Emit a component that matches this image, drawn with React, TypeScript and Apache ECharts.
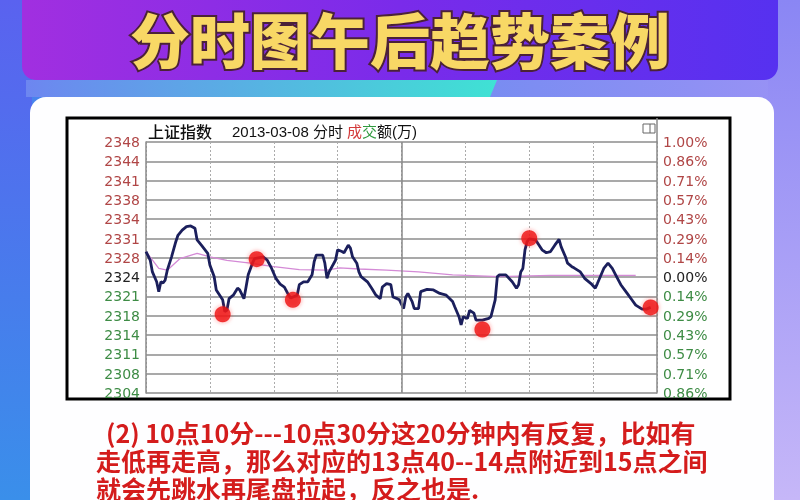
import React, { useEffect, useRef } from "react";
import * as echarts from "echarts";

// previous close of the index; one grid step = 1/7 of 1%
const BASE = 2324.4;
const STEP = BASE / 700;

const leftLabels = ["2304", "2308", "2311", "2314", "2318", "2321", "2324", "2328", "2331", "2334", "2338", "2341", "2344", "2348"];
const rightLabels = ["0.86%", "0.71%", "0.57%", "0.43%", "0.29%", "0.14%", "0.00%", "0.14%", "0.29%", "0.43%", "0.57%", "0.71%", "0.86%", "1.00%"];

// [minute since 9:30 (trading minutes), index value]
const priceLine = [
  [0, 2328.8], [2, 2327.3], [3, 2325.3], [5, 2323.6], [6, 2321.9], [7, 2323.6], [8, 2323.4], [9, 2323.9],
  [10, 2325.6], [12, 2327.9], [14, 2330.5], [15, 2331.6], [17, 2332.5], [19, 2333.1], [21, 2333.2], [23, 2332.8],
  [24, 2330.8], [26, 2329.9], [29, 2328.5], [30, 2326.5], [32, 2324.5], [33, 2322.2], [36, 2320.5], [37, 2318.5],
  [38, 2318.7], [39, 2320.7], [41, 2321.3], [43, 2322.5], [44, 2322.2], [46, 2320.7], [47, 2322.7], [48, 2324.8],
  [50, 2326.8], [51, 2327.6], [55, 2327.9], [57, 2327.3], [59, 2325.9], [61, 2324.2], [63, 2323.2], [65, 2322.7],
  [67, 2321.3], [68, 2320.8], [71, 2321.3], [72, 2323.1], [74, 2323.6], [76, 2323.6], [78, 2324.8], [79, 2327.1],
  [80, 2328.2], [83, 2328.2], [84, 2326.8], [85, 2324.2], [86, 2325.3], [89, 2327.3], [90, 2329.1], [92, 2328.8],
  [93, 2328.6], [95, 2329.9], [96, 2329.4], [97, 2327.9], [99, 2326.8], [100, 2325.3], [101, 2324.5], [104, 2323.6],
  [106, 2322.5], [108, 2321.3], [110, 2320.7], [111, 2322.7], [113, 2323.3], [115, 2323.1], [116, 2321.0], [118, 2320.7],
  [119, 2320.5], [121, 2319.0], [122, 2321.0], [123, 2321.6], [125, 2320.2], [126, 2319.0], [128, 2319.0], [129, 2321.9],
  [132, 2322.3], [135, 2322.2], [138, 2321.6], [141, 2321.3], [144, 2320.2], [145, 2319.3], [147, 2317.6], [148, 2316.2],
  [149, 2317.6], [151, 2317.3], [152, 2318.7], [154, 2318.2], [155, 2317.0], [158, 2317.0], [161, 2317.3], [162, 2317.6],
  [164, 2320.5], [165, 2324.5], [166, 2324.8], [169, 2324.8], [172, 2323.6], [174, 2322.5], [175, 2323.1], [176, 2325.3],
  [177, 2325.9], [178, 2329.1], [179, 2330.5], [180, 2331.0], [183, 2330.8], [186, 2329.1], [188, 2328.6], [190, 2328.8],
  [192, 2329.9], [194, 2330.9], [195, 2329.6], [197, 2327.9], [198, 2326.8], [200, 2326.2], [201, 2326.0], [204, 2325.3],
  [206, 2324.2], [209, 2323.3], [211, 2322.5], [212, 2323.3], [215, 2325.9], [217, 2326.8], [219, 2325.9], [221, 2324.5],
  [223, 2323.1], [226, 2321.6], [228, 2320.6], [230, 2319.6], [233, 2318.9], [235, 2318.9], [237, 2319.2],
];

// average price line
const avgLine = [
  [0, 2328.8], [6, 2325.9], [10, 2325.6], [16, 2327.6], [24, 2328.5], [30, 2327.9], [38, 2327.3], [49, 2326.8],
  [60, 2326.2], [72, 2325.7], [85, 2325.6], [91, 2326.0], [100, 2325.8], [113, 2325.6], [128, 2325.3], [144, 2324.8],
  [166, 2324.5], [190, 2324.7], [230, 2324.7],
];

// highlighted turning points
const keyPoints = [
  [36, 2318.0], [52, 2327.5], [69, 2320.5], [158, 2315.4], [180, 2331.1], [237, 2319.2],
];

const noteLines = [
  "(2) 10点10分---10点30分这20分钟内有反复，比如有",
  "走低再走高，那么对应的13点40--14点附近到15点之间",
  "就会先跳水再尾盘拉起，反之也是.",
];

const toStep = (p: number) => (p - BASE) / STEP;

const CJK = '"Noto Sans CJK SC", "Noto Sans", sans-serif';
const LAT = '"Liberation Sans", "Noto Sans CJK SC", sans-serif';

export default function App() {
  const ref = useRef<HTMLDivElement>(null);

  useEffect(() => {
    if (!ref.current) return;
    const chart = echarts.init(ref.current, undefined, { renderer: "svg" });
    const LG = echarts.graphic.LinearGradient;

    const labelRich = {
      r: { color: "#b04646", fontSize: 14, fontFamily: '"DejaVu Sans", sans-serif' },
      g: { color: "#3e8c45", fontSize: 14, fontFamily: '"DejaVu Sans", sans-serif' },
      k: { color: "#222222", fontSize: 14, fontFamily: '"DejaVu Sans", sans-serif' },
    };
    const cls = (v: number) => (v > 0 ? "r" : v < 0 ? "g" : "k");

    const noteStyle = { fill: "#d41c1c", fontSize: 25, fontWeight: "bold", fontFamily: CJK, lineHeight: 28 };
    const noteText = noteLines.map((t, i) => `{${i === 0 ? "a" : "b"}|${t}}`).join("\n");

    const option: any = {
      animation: false,
      graphic: {
        elements: [
          {
            type: "rect", z: -20, shape: { x: 0, y: 0, width: 800, height: 500 },
            style: { fill: new LG(0, 0, 1, 0, [{ offset: 0, color: "#4483ec" }, { offset: 1, color: "#9a92f5" }]) },
          },
          {
            type: "rect", z: -19, shape: { x: 0, y: 0, width: 32, height: 500 },
            style: { fill: new LG(0, 0, 0, 1, [{ offset: 0, color: "#5a62ef" }, { offset: 1, color: "#3a8fea" }]) },
          },
          {
            type: "rect", z: -19, shape: { x: 768, y: 0, width: 32, height: 500 },
            style: { fill: new LG(0, 0, 0, 1, [{ offset: 0, color: "#8a86f4" }, { offset: 1, color: "#c6b7f8" }]) },
          },
          {
            type: "rect", z: -18, shape: { x: 22, y: -20, width: 756, height: 100, r: 14 },
            style: {
              fill: new LG(0, 0, 1, 0, [
                { offset: 0, color: "#a12fe0" },
                { offset: 0.5, color: "#7a2bea" },
                { offset: 1, color: "#5631f0" },
              ]),
            },
          },
          {
            type: "polygon", z: -18, shape: { points: [[26, 80], [497, 80], [490, 97], [26, 97]] },
            style: { fill: new LG(0, 0, 1, 0, [{ offset: 0, color: "#6d86f0" }, { offset: 1, color: "#3fe2d4" }]) },
          },
          {
            type: "rect", z: -17, shape: { x: 30, y: 97, width: 744, height: 430, r: 16 },
            style: { fill: "#fefeff" },
          },
          {
            type: "rect", z: -16, shape: { x: 67, y: 118, width: 663, height: 281 },
            style: { fill: "#ffffff", stroke: "#000000", lineWidth: 3 },
          },
          {
            type: "line", z: 1, shape: { x1: 657, y1: 118, x2: 657, y2: 142 },
            style: { stroke: "#8a8a8a", lineWidth: 1.5 },
          },
          {
            type: "rect", z: 1, shape: { x: 643, y: 124, width: 12, height: 9 },
            style: { fill: "#fff", stroke: "#666", lineWidth: 1 },
          },
          {
            type: "line", z: 1, shape: { x1: 650, y1: 124, x2: 650, y2: 133 },
            style: { stroke: "#666", lineWidth: 1 },
          },
          {
            type: "text", z: 10, x: 148, y: 131,
            style: { text: "上证指数", fill: "#111", font: `500 16px ${CJK}`, verticalAlign: "middle" },
          },
          {
            type: "text", z: 10, x: 232, y: 131,
            style: {
              text: "{k|2013-03-08 分时 }{r|成}{g|交}{k|额(万)}",
              verticalAlign: "middle",
              rich: {
                k: { fill: "#111", fontSize: 15, fontFamily: LAT },
                r: { fill: "#d33a3a", fontSize: 15, fontFamily: LAT },
                g: { fill: "#2f9a3e", fontSize: 15, fontFamily: LAT },
              },
            },
          },
          {
            type: "text", z: 10, x: 400, y: 37,
            style: {
              text: "分时图午后趋势案例",
              font: `900 60px ${CJK}`,
              align: "center",
              verticalAlign: "middle",
              lineHeight: 60,
              fill: "#f8d865",
              stroke: "#4b2238",
              lineWidth: 4,
              strokeFirst: true,
              shadowColor: "rgba(40,0,60,0.55)",
              shadowBlur: 5,
              shadowOffsetY: 2,
            },
          },
          {
            type: "text", z: 10, x: 96, y: 418,
            style: {
              text: noteText,
              verticalAlign: "top",
              rich: {
                a: { ...noteStyle, padding: [0, 0, 0, 10] },
                b: noteStyle,
              },
            },
          },
        ],
      },
      grid: { left: 146, top: 142, width: 511, height: 251 },
      xAxis: {
        type: "value", min: 0, max: 240, interval: 30,
        axisLine: { show: false }, axisTick: { show: false }, axisLabel: { show: false },
        splitLine: { show: true, lineStyle: { color: "#ababab", type: [2, 2], width: 1 } },
      },
      yAxis: [
        {
          type: "value", position: "left", min: -6, max: 7, interval: 1,
          axisLine: { show: true, lineStyle: { color: "#8a8a8a", width: 1.5 } },
          axisTick: { show: false },
          axisLabel: {
            margin: 6,
            formatter: (v: number) => `{${cls(v)}|${leftLabels[Math.round(v) + 6]}}`,
            rich: labelRich,
          },
          splitLine: { show: true, lineStyle: { color: "#8c8c8c", width: 1.5 } },
        },
        {
          type: "value", position: "right", min: -6, max: 7, interval: 1,
          axisLine: { show: true, lineStyle: { color: "#8a8a8a", width: 1.5 } },
          axisTick: { show: false },
          axisLabel: {
            margin: 6,
            formatter: (v: number) => `{${cls(v)}|${rightLabels[Math.round(v) + 6]}}`,
            rich: labelRich,
          },
          splitLine: { show: false },
        },
      ],
      series: [
        {
          type: "line", z: 2, symbol: "none", yAxisIndex: 0,
          data: avgLine.map(([m, p]) => [m, toStep(p)]),
          lineStyle: { color: "#d48ad6", width: 1.3 },
        },
        {
          type: "line", z: 3, symbol: "none", yAxisIndex: 0,
          data: priceLine.map(([m, p]) => [m, toStep(p)]),
          lineStyle: { color: "#1b1f5c", width: 2.8 },
          markLine: {
            silent: true, symbol: "none", label: { show: false },
            lineStyle: { color: "#8a8a8a", type: "solid", width: 1.5 },
            data: [{ xAxis: 120 }],
          },
        },
        {
          type: "scatter", z: 5, yAxisIndex: 0, symbolSize: 16,
          data: keyPoints.map(([m, p]) => [m, toStep(p)]),
          itemStyle: { color: "#ee1111", shadowBlur: 4, shadowColor: "rgba(255,40,40,0.6)" },
        },
      ],
    };

    chart.setOption(option);
    return () => chart.dispose();
  }, []);

  return <div ref={ref} style={{ position: "fixed", left: 0, top: 0, width: 800, height: 500 }} />;
}
